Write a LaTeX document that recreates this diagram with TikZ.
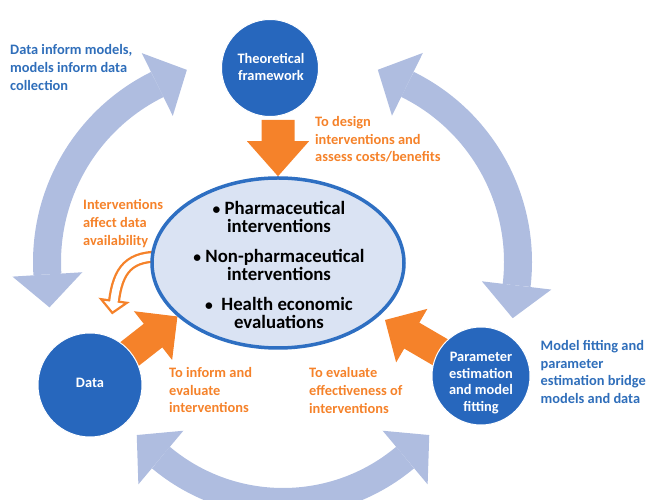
\documentclass[tikz,border=0pt]{standalone}
\usepackage{fontspec}
\setmainfont{Carlito}
\usetikzlibrary{calc,shapes.geometric}
\definecolor{circblue}{HTML}{2767BD}
\definecolor{hubborder}{HTML}{2E6FC2}
\definecolor{hubfill}{HTML}{DAE3F3}
\definecolor{txtblue}{HTML}{2F6EBA}
\definecolor{orangeC}{HTML}{F5822A}
\definecolor{arcblue}{HTML}{AFBDE0}
\newcommand\blockarr[6]{%
  \coordinate (#3b) at ($(#2)!#6!(#1)$);
  \fill[orangeC] ($(#1)!#4!90:(#2)$) -- ($(#3b)!#4!90:(#2)$) -- ($(#3b)!#5!90:(#2)$) -- (#2)
    -- ($(#3b)!#5!-90:(#2)$) -- ($(#3b)!#4!-90:(#2)$) -- ($(#1)!#4!-90:(#2)$) -- cycle;}
\newcommand\smbul{{\fontsize{15.5}{15}\selectfont\textbullet}}
\begin{document}
\begin{tikzpicture}[x=1pt,y=1pt,
  circ/.style={circle, fill=circblue, draw=white, line width=1pt, inner sep=0pt},
  circtxt/.style={text=white, inner sep=0pt, align=center, font=\bfseries\fontsize{14.4}{16.6}\selectfont},
  hubstyle/.style={ellipse, minimum width=252pt, minimum height=170pt, inner sep=0pt, draw=hubborder, line width=3.5pt, fill=hubfill},
  lbl/.style={inner sep=0pt, anchor=north west, align=left, font=\bfseries\fontsize{14.4}{17.8}\selectfont},
  bluearc/.style={draw=arcblue, line width=28pt},
  hubtxt/.style={inner sep=0pt, align=center, font=\bfseries\fontsize{18.8}{18}\selectfont}]
\useasboundingbox (0,0) rectangle (650,500);

% ---- big light-blue circular arrows
\coordinate (CL) at (245,238);
\coordinate (CR) at (320,238);
\coordinate (CB) at (283,188);
% left arc
\draw[bluearc] ($(CL)+(183.6:198)$) arc[start angle=183.6, end angle=116.3, radius=198];
\fill[arcblue] ($(CL)+(183.6:233)$) -- ($(CL)+(183.6:198)+(273.6:33)$) -- ($(CL)+(183.6:163)$) -- cycle;
\fill[arcblue] ($(CL)+(116.3:233)$) -- ($(CL)+(116.3:198)+(26.3:33)$) -- ($(CL)+(116.3:163)$) -- cycle;
% right arc
\draw[bluearc] ($(CR)+(63.8:198)$) arc[start angle=63.8, end angle=-6.8, radius=198];
\fill[arcblue] ($(CR)+(63.8:233)$) -- ($(CR)+(63.8:198)+(153.8:33)$) -- ($(CR)+(63.8:163)$) -- cycle;
\fill[arcblue] ($(CR)+(-6.8:233)$) -- ($(CR)+(-6.8:198)+(-96.8:33)$) -- ($(CR)+(-6.8:163)$) -- cycle;
% bottom arc
\draw[bluearc] ($(CB)+(230:190)$) arc[start angle=230, end angle=310, radius=190];
\fill[arcblue] ($(CB)+(230:225)$) -- ($(CB)+(230:190)+(137:33)$) -- ($(CB)+(230:155)$) -- cycle;
\fill[arcblue] ($(CB)+(310:225)$) -- ($(CB)+(310:190)+(43:33)$) -- ($(CB)+(310:155)$) -- cycle;

% ---- nodes (placed first for anchors, drawn later on top)
\path (278,237) node[hubstyle, draw=none, fill=none] (hubref) {};
\path (270,432) node[circ, minimum size=97pt, draw=none, fill=none] (theoryref) {};
\path (90,115) node[circ, minimum size=104pt, draw=none, fill=none] (dataref) {};
\path (481,124) node[circ, minimum size=98pt, draw=none, fill=none] (paramref) {};

% ---- orange block arrows
\coordinate (a1s) at ($(theoryref.south)+(8,-3)$);
\blockarr{a1s}{hubref.north}{a1}{16.5pt}{31pt}{35pt}
\blockarr{dataref.center}{hubref.208}{a2}{15pt}{31pt}{31pt}
\coordinate (a3t) at (385,180);
\blockarr{paramref.center}{a3t}{a3}{15pt}{31pt}{31pt}

% ---- hollow curved arrow
\coordinate (hs) at ($(hubref.west)+(16,6)$);
\coordinate (hb) at (114,199);
\draw[orangeC, line width=12pt] (hs) .. controls (128,246) and (118,229) .. (hb);
\filldraw[fill=white, draw=orangeC, line width=2.2pt, line join=miter]
  ($(hb)+(352:13)$) -- ($(hb)+(262:12)$) -- ($(hb)+(172:13)$) -- cycle;
\draw[white, line width=7.4pt] (hs) .. controls (128,246) and (118,229) .. (hb) -- ($(hb)+(262:2.5)$);

% ---- central ellipse and circles
\node[hubstyle] (hub) at (hubref) {};
\node[hubtxt] (hubtext) at (279,235) {\smbul\ Pharmaceutical\\interventions\\[12pt]\smbul\ Non-pharmaceutical\\interventions\\[12pt]\smbul\ \ Health economic\\evaluations};
\node[circ, minimum size=97pt] (theory) at (theoryref) {};
\node[circ, minimum size=104pt] (data) at (dataref) {};
\node[circ, minimum size=98pt] (param) at (paramref) {};
\node[circtxt] (theorytxt) at (271,433) {Theoretical\\framework};
\node[circtxt] (datatxt) at (90,117) {Data};
\node[circtxt] (paramtxt) at (481,117) {Parameter\\estimation\\and model\\fitting};

% ---- labels
\node[lbl, text=txtblue] (l1) at (10,455.5) {Data inform models,\\models inform data\\collection};
\node[lbl, text=orangeC] (l2) at (315,384) {To design\\interventions and\\assess costs/benefits};
\node[lbl, text=orangeC] (l3) at (83,300.5) {Interventions\\affect data\\availability};
\node[lbl, text=orangeC] (l4) at (169,133) {To inform and\\evaluate\\interventions};
\node[lbl, text=orangeC] (l5) at (309,132.5) {To evaluate\\effectiveness of\\interventions};
\node[lbl, text=txtblue] (l6) at (540.5,160) {Model fitting and\\parameter\\estimation bridge\\models and data};
\end{tikzpicture}
\end{document}
